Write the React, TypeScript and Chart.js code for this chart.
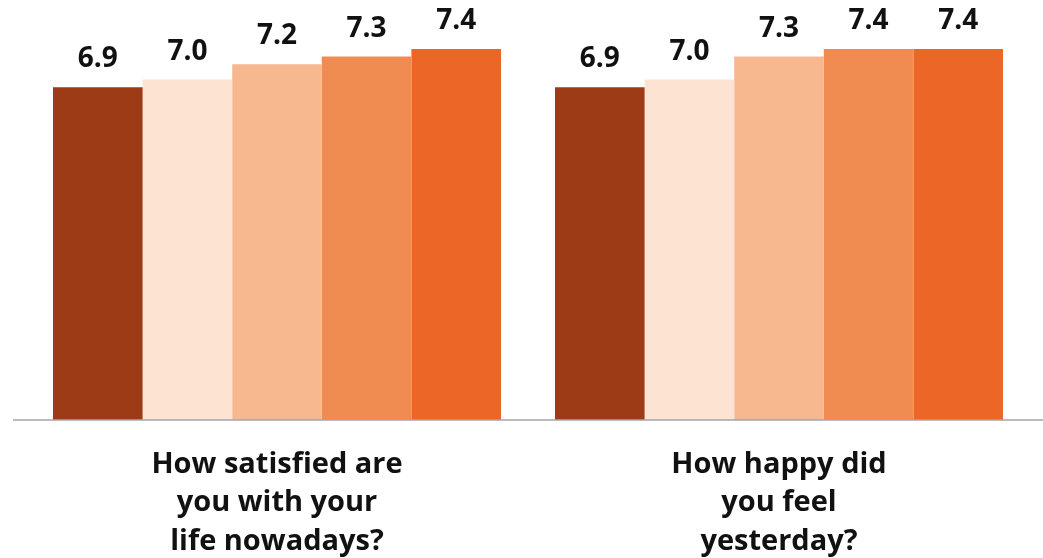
import React, { useEffect, useRef } from "react";
import { Chart, registerables } from "chart.js";

Chart.register(...registerables);

const categories: string[][] = [
  ["How satisfied are", "you with your", "life nowadays?"],
  ["How happy did", "you feel", "yesterday?"],
];
const seriesNames = ["Group 1", "Group 2", "Group 3", "Group 4", "Group 5"];
const seriesA = [6.9, 6.9];
const seriesB = [7.0, 7.0];
const seriesC = [7.2, 7.3];
const seriesD = [7.3, 7.4];
const seriesE = [7.4, 7.4];
const seriesColors = ["#9E3B17", "#FDE3D2", "#F7B78F", "#F08B51", "#EC6727"];

const FONT = "'Open Sans', sans-serif";

const valueLabels = {
  id: "valueLabels",
  afterDatasetsDraw(chart: any) {
    const ctx = chart.ctx;
    ctx.save();
    ctx.font = `bold 28px ${FONT}`;
    ctx.fillStyle = "#111111";
    ctx.textAlign = "center";
    ctx.textBaseline = "alphabetic";
    chart.data.datasets.forEach((ds: any, i: number) => {
      const meta = chart.getDatasetMeta(i);
      meta.data.forEach((bar: any, j: number) => {
        ctx.fillText(Number(ds.data[j]).toFixed(1), bar.x, bar.y - 20);
      });
    });
    ctx.restore();
  },
};

const baseLine = {
  id: "baseLine",
  afterDatasetsDraw(chart: any) {
    const ctx = chart.ctx;
    const y = chart.chartArea.bottom;
    ctx.save();
    ctx.strokeStyle = "#A6A6A6";
    ctx.lineWidth = 1.5;
    ctx.beginPath();
    ctx.moveTo(13, y);
    ctx.lineTo(chart.width, y);
    ctx.stroke();
    ctx.restore();
  },
};

export default function App() {
  const ref = useRef<HTMLCanvasElement>(null);
  useEffect(() => {
    if (!ref.current) return;
    const all = [seriesA, seriesB, seriesC, seriesD, seriesE];
    const chart = new Chart(ref.current, {
      type: "bar",
      data: {
        labels: categories,
        datasets: all.map((d, i) => ({
          label: seriesNames[i],
          data: d,
          backgroundColor: seriesColors[i],
          borderWidth: 0,
          barPercentage: 1,
          categoryPercentage: 0.8924,
        })),
      },
      options: {
        animation: false,
        responsive: false,
        devicePixelRatio: 1,
        layout: { padding: { left: 26, right: 13, top: 0, bottom: 0 } },
        plugins: {
          legend: { display: false },
          tooltip: { enabled: false },
        },
        scales: {
          x: {
            grid: { display: false, drawTicks: false },
            border: { display: false },
            afterFit(scale: any) {
              scale.height = 138;
            },
            ticks: {
              color: "#111111",
              font: { family: FONT, size: 29, weight: "bold", lineHeight: 1.33 },
              padding: 25,
              maxRotation: 0,
              autoSkip: false,
            },
          },
          y: {
            display: false,
            min: 2.55,
            max: 8.04,
          },
        },
      },
      plugins: [valueLabels, baseLine],
    });
    return () => chart.destroy();
  }, []);
  return (
    <div style={{ position: "fixed", left: 0, top: 0, width: 1043, height: 558, background: "#fff" }}>
      <canvas ref={ref} width={1043} height={558} style={{ display: "block" }} />
    </div>
  );
}
